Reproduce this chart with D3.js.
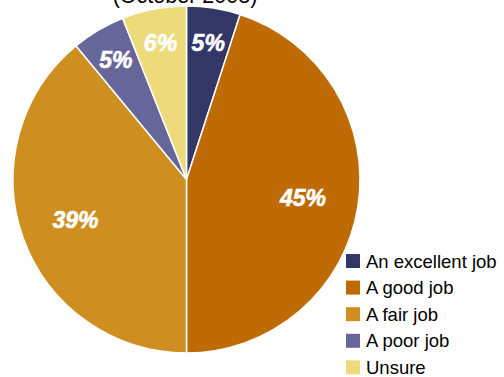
<!DOCTYPE html>
<html>
<head>
<meta charset="utf-8">
<script src="https://cdn.jsdelivr.net/npm/d3@7"></script>
<style>
  html, body { margin: 0; padding: 0; background: #fff; }
  svg { display: block; }
</style>
</head>
<body>
<svg id="chart" width="504" height="377"></svg>
<script>
// Survey responses, October 2008
const categories = ["An excellent job", "A good job", "A fair job", "A poor job", "Unsure"];
const values = [5, 45, 39, 5, 6];
const colors = ["#333767", "#be6a05", "#cf8f20", "#67669a", "#eddb7b"];
const title = "(October 2008)";

const svg = d3.select("#chart");
const cx = 186.5, cy = 179.5, radius = 173.5;

// Title, mostly clipped by the top edge
svg.append("text")
  .attr("x", 185)
  .attr("y", 3)
  .attr("text-anchor", "middle")
  .attr("font-family", "Liberation Sans, Arial, sans-serif")
  .attr("font-size", 21.5)
  .attr("fill", "#000")
  .text(title);

const pie = d3.pie().sort(null).value(d => d)(values);
const arc = d3.arc().innerRadius(0).outerRadius(radius);

const g = svg.append("g").attr("transform", `translate(${cx},${cy})`);

g.selectAll("path.slice")
  .data(pie)
  .join("path")
  .attr("class", "slice")
  .attr("d", arc)
  .attr("fill", (d, i) => colors[i])
  .attr("stroke", "#fff")
  .attr("stroke-width", 1.5)
  .attr("stroke-linejoin", "round");

// Percentage labels: small slices sit nearer the rim
const labelArc = d => {
  const share = (d.endAngle - d.startAngle) / (2 * Math.PI);
  const r = radius * (share > 0.2 ? 0.68 : 0.8);
  return d3.arc().innerRadius(r).outerRadius(r).centroid(d);
};

g.selectAll("text.pct")
  .data(pie)
  .join("text")
  .attr("class", "pct")
  .attr("transform", d => `translate(${labelArc(d)})`)
  .attr("text-anchor", "middle")
  .attr("dy", "0.36em")
  .attr("font-family", "Liberation Sans, Arial, sans-serif")
  .attr("font-weight", "bold")
  .attr("font-style", "italic")
  .attr("font-size", 23)
  .attr("fill", "#fff")
  .attr("stroke", "#fff")
  .attr("stroke-width", 0.6)
  .text(d => d.data + "%");

// Legend
const legendY = d3.scaleBand()
  .domain(categories)
  .range([254, 387])
  .paddingInner(0);

const legend = svg.append("g");
const rows = legend.selectAll("g.row")
  .data(categories)
  .join("g")
  .attr("class", "row")
  .attr("transform", d => `translate(346,${legendY(d)})`);

rows.append("rect")
  .attr("width", 14)
  .attr("height", 14)
  .attr("fill", (d, i) => colors[i]);

rows.append("text")
  .attr("x", 20)
  .attr("y", 7)
  .attr("dy", "0.36em")
  .attr("font-family", "Liberation Sans, Arial, sans-serif")
  .attr("font-size", 18.5)
  .attr("fill", "#000")
  .text(d => d);
</script>
</body>
</html>
